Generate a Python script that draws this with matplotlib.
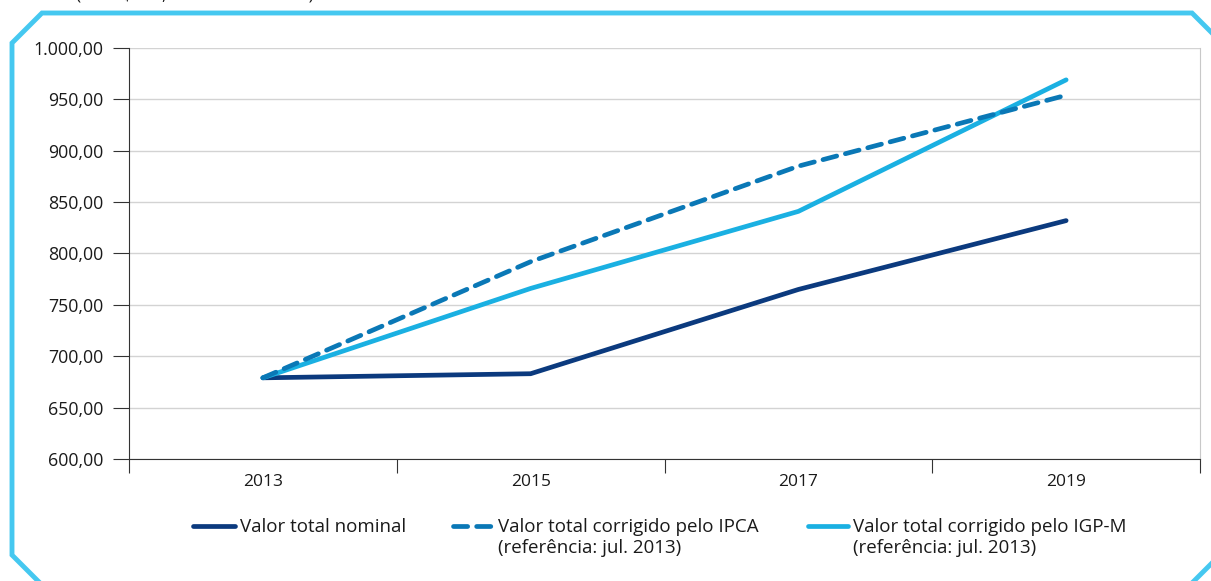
import matplotlib
matplotlib.use("Agg")
import matplotlib.pyplot as plt
from matplotlib.lines import Line2D
import numpy as np

plt.rcParams['font.family'] = ['Open Sans', 'DejaVu Sans']

years = ["2013", "2015", "2017", "2019"]
nominal = [679, 683, 765, 832]
ipca = [679, 792, 885, 954]
igpm = [679, 766, 841, 969]
y_ticks = [600, 650, 700, 750, 800, 850, 900, 950, 1000]
y_labels = ["600,00", "650,00", "700,00", "750,00", "800,00", "850,00", "900,00", "950,00", "1.000,00"]
series_names = ["Valor total nominal",
                "Valor total corrigido pelo IPCA\n(referência: jul. 2013)",
                "Valor total corrigido pelo IGP-M\n(referência: jul. 2013)"]
c_nom = "#0B3A7E"
c_ipca = "#0A78B6"
c_igpm = "#1AB0E2"
frame_c = "#45C8F0"
text_c = "#1A1A1A"

W, H = 1211, 581
fig = plt.figure(figsize=(W/100, H/100), dpi=100)
ax = fig.add_axes([129/W, 1-459/H, (1200-129)/W, (459-48)/H])

x = np.arange(len(years))
ax.plot(x, nominal, color=c_nom, lw=3.4, solid_capstyle='round', zorder=3)
ax.plot(x, igpm, color=c_igpm, lw=3.4, solid_capstyle='round', zorder=3)
ax.plot(x, ipca, color=c_ipca, lw=3.4, dashes=(3.0, 1.9), dash_capstyle='round', zorder=4)

ax.set_xlim(-0.5, len(years)-0.5)
ax.set_ylim(600, 1000)
ax.set_yticks(y_ticks)
ax.set_yticklabels(y_labels)
ax.set_xticks(x)
ax.set_xticklabels(years)
ax.set_xticks(np.arange(-0.5, len(years)), minor=True)
ax.tick_params(axis='x', which='major', length=0, pad=11, labelsize=12.5, labelcolor=text_c)
ax.tick_params(axis='x', which='minor', length=10, width=0.8, color='#333333', direction='out')
ax.tick_params(axis='y', length=11.5, width=0.8, color='#333333', pad=7, labelsize=12.8, labelcolor=text_c)
ax.grid(axis='y', color='#D3D3D3', lw=1.0)
ax.set_axisbelow(True)
ax.spines['top'].set_visible(False)
ax.spines['right'].set_color('#C8C8C8')
ax.spines['left'].set_color('#333333')
ax.spines['bottom'].set_color('#333333')
ax.spines['left'].set_linewidth(0.8)
ax.spines['bottom'].set_linewidth(0.8)

# Legend (manual)
def fx(px): return px / W
def fy(py): return 1 - py / H

leg_items = [(193, 235, c_nom, None), (453, 493, c_ipca, (3.0, 1.9)), (808, 848, c_igpm, None)]
for (x0, x1, col, dash), name in zip(leg_items, series_names):
    ln = Line2D([fx(x0), fx(x1)], [fy(526), fy(526)], transform=fig.transFigure,
                color=col, lw=3.4, solid_capstyle='round', dash_capstyle='round')
    if dash:
        ln.set_dashes(dash)
    fig.add_artist(ln)
    fig.text(fx(x1+5), fy(518), name, ha='left', va='top', fontsize=13.5,
             color=text_c, linespacing=1.2)

# Subtitle, cut off at the top edge as in the reference
fig.text(fx(76), fy(-0.5), "(Em R$ mil, valores nominais)", ha='left', va='baseline',
         fontsize=12.5, color=text_c)

# Frame with chamfered corners
pts = [(1211, 32), (1192, 13), (42, 13), (12, 43), (12, 555), (40, 583)]
fig.add_artist(Line2D([fx(p[0]) for p in pts], [fy(p[1]) for p in pts],
                      transform=fig.transFigure, color=frame_c, lw=3.5,
                      solid_joinstyle='miter'))
fig.add_artist(Line2D([fx(1192), fx(1213)], [fy(583), fy(562)],
                      transform=fig.transFigure, color=frame_c, lw=3.5))

fig.savefig("out.png", dpi=100)
